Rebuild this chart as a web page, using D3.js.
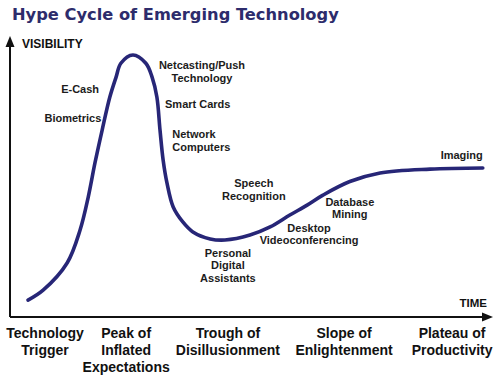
<!DOCTYPE html>
<html lang="en">
	<head>
		<meta charset="UTF-8" />
		<title>Hype Cycle of Emerging Technology</title>
		<script src="https://d3js.org/d3.v7.min.js"></script>
		<style>
			body { margin: 0; background: #fff; }
			svg text { font-family: "Liberation Sans", Arial, sans-serif; font-weight: bold; }
		</style>
	</head>
	<body>
		<svg width="500" height="375"></svg>

		<script>
			const width = 500;
			const height = 375;

			// curve (time 0-100, visibility 0-100)
			const time = [3.75, 6.9, 11.9, 14.6, 16.3, 17.7, 19.2, 20.8, 22.1, 23.1, 25.6, 28.3, 29.6, 30.6, 31.25, 31.9, 32.7, 34.0, 36.0, 38.1, 41.7, 44.8, 50.0, 54.2, 58.3, 61.9, 65.2, 70.8, 77.1, 87.5, 98.5];
			const visibility = [6.1, 9.7, 19.5, 31.4, 43.3, 55.6, 67.5, 79.4, 86.6, 91.6, 94.6, 91.6, 86.6, 79.4, 67.5, 56.7, 48.4, 39.7, 34.3, 30.7, 28.2, 27.8, 29.6, 32.5, 36.8, 40.4, 44.0, 48.9, 52.0, 53.4, 53.8];

			// technology labels: [text lines], time, visibility, anchor
			const techNames = [["Biometrics"], ["E-Cash"], ["Netcasting/Push", "Technology"], ["Smart Cards"], ["Network", "Computers"], ["Speech", "Recognition"], ["Personal", "Digital", "Assistants"], ["Desktop", "Videoconferencing"], ["Database", "Mining"], ["Imaging"]];
			const techTime = [13.1, 14.6, 40.0, 32.3, 33.8, 50.8, 45.4, 62.3, 70.8, 98.5];
			const techVis = [70.4, 80.9, 89.5, 75.5, 64.6, 46.9, 21.7, 30.7, 40.1, 57.0];
			const techAnchor = ["middle", "middle", "middle", "start", "start", "middle", "middle", "middle", "middle", "end"];

			// phases along the time axis
			const phases = [["Technology", "Trigger"], ["Peak of", "Inflated", "Expectations"], ["Trough of", "Disillusionment"], ["Slope of", "Enlightenment"], ["Plateau of", "Productivity"]];
			const phaseTime = [7.3, 24.2, 45.4, 69.6, 92.1];

			const x = d3.scaleLinear().domain([0, 100]).range([10, 490]);
			const y = d3.scaleLinear().domain([0, 100]).range([317, 40]);

			const svg = d3.select("svg");

			// title
			const title = svg
				.append("text")
				.attr("x", 12)
				.attr("y", 20)
				.attr("fill", "#2d2c6c")
				.style("font-family", "'DejaVu Sans', Verdana, sans-serif")
				.style("font-size", "16px")
				.text("Hype Cycle of Emerging Technology");
			// stretch to the width seen in the picture
			const tw = title.node().getComputedTextLength();
			title.style("font-size", (16 * 327) / tw + "px");

			// axes with arrows
			const axisColor = "#111";
			svg.append("line")
				.attr("x1", x(0)).attr("y1", y(0))
				.attr("x2", x(0)).attr("y2", 44)
				.attr("stroke", axisColor).attr("stroke-width", 2);
			svg.append("path")
				.attr("d", d3.line()([[x(0), 36], [x(0) - 4.5, 47], [x(0) + 4.5, 47]]) + "Z")
				.attr("fill", axisColor);
			svg.append("line")
				.attr("x1", x(0)).attr("y1", y(0))
				.attr("x2", 484).attr("y2", y(0))
				.attr("stroke", axisColor).attr("stroke-width", 2);
			svg.append("path")
				.attr("d", d3.line()([[493, y(0)], [482, y(0) - 4.5], [482, y(0) + 4.5]]) + "Z")
				.attr("fill", axisColor);

			svg.append("text")
				.attr("x", 22).attr("y", 48)
				.attr("fill", "#111")
				.style("font-size", "12px")
				.text("VISIBILITY");
			svg.append("text")
				.attr("x", 487).attr("y", 307)
				.attr("text-anchor", "end")
				.attr("fill", "#111")
				.style("font-size", "11.5px")
				.text("TIME");

			// the curve
			const points = time.map((t, i) => [t, visibility[i]]);
			const line = d3.line()
				.x((d) => x(d[0]))
				.y((d) => y(d[1]))
				.curve(d3.curveCatmullRom.alpha(0.5));
			svg.append("path")
				.datum(points)
				.attr("d", line)
				.attr("fill", "none")
				.attr("stroke", "#272677")
				.attr("stroke-width", 3.6)
				.attr("stroke-linecap", "round");

			// technology labels
			const tech = svg.append("g")
				.selectAll("text")
				.data(techNames)
				.join("text")
				.attr("x", (d, i) => x(techTime[i]))
				.attr("y", (d, i) => y(techVis[i]))
				.attr("text-anchor", (d, i) => techAnchor[i])
				.attr("fill", "#1c1c1c")
				.style("font-size", "11px");
			tech.selectAll("tspan")
				.data((d, i) => d.map((s) => ({ s, i })))
				.join("tspan")
				.attr("x", (d) => x(techTime[d.i]))
				.attr("dy", (d, j) => (j === 0 ? 0 : 12.5))
				.text((d) => d.s);

			// phase labels
			const phase = svg.append("g")
				.selectAll("text")
				.data(phases)
				.join("text")
				.attr("x", (d, i) => x(phaseTime[i]))
				.attr("y", 338)
				.attr("text-anchor", "middle")
				.attr("fill", "#111")
				.style("font-size", "14px");
			phase.selectAll("tspan")
				.data((d, i) => d.map((s) => ({ s, i })))
				.join("tspan")
				.attr("x", (d) => x(phaseTime[d.i]))
				.attr("dy", (d, j) => (j === 0 ? 0 : 17))
				.text((d) => d.s);
		</script>
	</body>
</html>
